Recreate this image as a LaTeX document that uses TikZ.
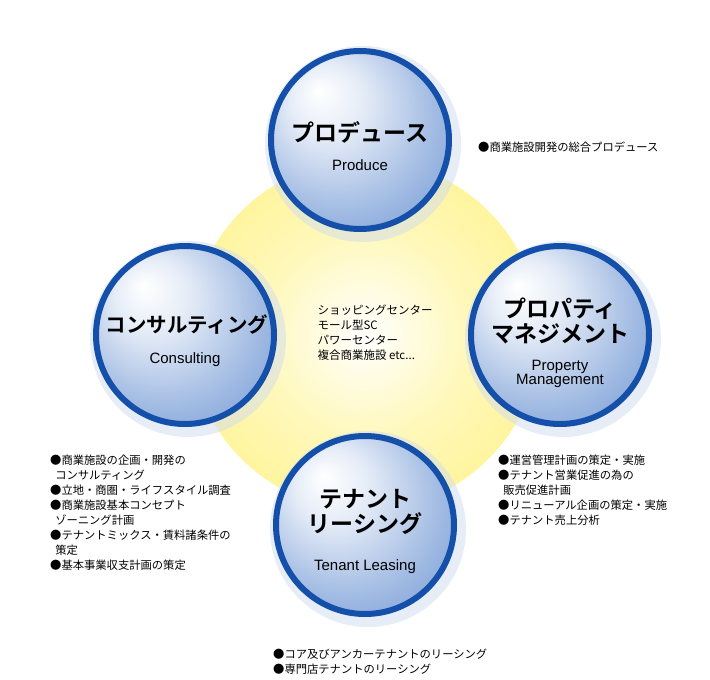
\documentclass[tikz,border=0pt]{standalone}
\usepackage{fontspec}
\setmainfont{Noto Sans CJK JP}
\newfontfamily\jpb{Noto Sans CJK JP Bold}
\newfontfamily\lat{Liberation Sans}
\usetikzlibrary{shadings}
\definecolor{ringblue}{RGB}{20,80,170}
\definecolor{ballblue}{RGB}{90,135,205}
\definecolor{glowy}{RGB}{255,243,140}
\pgfdeclareradialshading{ballshade}{\pgfpoint{-12bp}{14bp}}{color(0bp)=(white);color(10bp)=(white!85!ballblue);color(28bp)=(ballblue!60);color(44bp)=(ballblue!90);color(50bp)=(ballblue)}
\pgfdeclareradialshading{glowshade}{\pgfpoint{0bp}{0bp}}{color(0bp)=(white);color(15bp)=(glowy!60);color(32bp)=(glowy);color(50bp)=(white)}
\tikzset{
  ball/.style={circle,minimum size=178pt,shading=ballshade,draw=ringblue,line width=6pt,inner sep=0pt},
  ttl/.style={font=\jpb\fontsize{23}{27}\selectfont,align=center,text=black},
  sub/.style={font=\lat\fontsize{15}{15}\selectfont,align=center},
  lst/.style={font=\fontsize{11.3}{15}\selectfont,align=left,anchor=north west,inner sep=0pt},
}
\begin{document}
\begin{tikzpicture}[x=1pt,y=-1pt]
\useasboundingbox (0,0) rectangle (710,680);
\shade[shading=glowshade] (365,335) circle (175);
\foreach \p in {(360,140),(185,335),(560,335),(365,525)}{
  \fill[ringblue!20,opacity=0.5] \p ++(3,4) circle (98);}
\node[ball] (prod) at (360,140) {};
\node[ball] (cons) at (185,335) {};
\node[ball] (pm) at (560,335) {};
\node[ball] (tl) at (365,525) {};
\node[ttl] (t1) at (360,132) {プロデュース};
\node[sub] (s1) at (360,165) {Produce};
\node[ttl,font=\jpb\fontsize{20.5}{25}\selectfont] (t2) at (187,325) {コンサルティング};
\node[sub] (s2) at (185,360) {Consulting};
\node[ttl] (t3) at (560,321) {プロパティ\\[-2pt]マネジメント};
\node[sub,font=\lat\fontsize{15}{12}\selectfont] (s3) at (560,374) {Property\\Management};
\node[ttl] (t4) at (365,512) {テナント\\[-2pt]リーシング};
\node[sub] (s4) at (365,567) {Tenant Leasing};
\node[font=\fontsize{11.5}{15}\selectfont,align=left] (ctr) at (375,333) {ショッピングセンター\\モール型SC\\パワーセンター\\複合商業施設 etc...};
\node[lst] (l1) at (478,142) {●商業施設開発の総合プロデュース};
\node[lst] (l2) at (50,455) {●商業施設の企画・開発の\\\ \ コンサルティング\\●立地・商圏・ライフスタイル調査\\●商業施設基本コンセプト\\\ \ ゾーニング計画\\●テナントミックス・賃料諸条件の\\\ \ 策定\\●基本事業収支計画の策定};
\node[lst] (l3) at (498,455) {●運営管理計画の策定・実施\\●テナント営業促進の為の\\\ \ 販売促進計画\\●リニューアル企画の策定・実施\\●テナント売上分析};
\node[lst] (l4) at (273,649) {●コア及びアンカーテナントのリーシング\\●専門店テナントのリーシング};
\end{tikzpicture}
\end{document}
